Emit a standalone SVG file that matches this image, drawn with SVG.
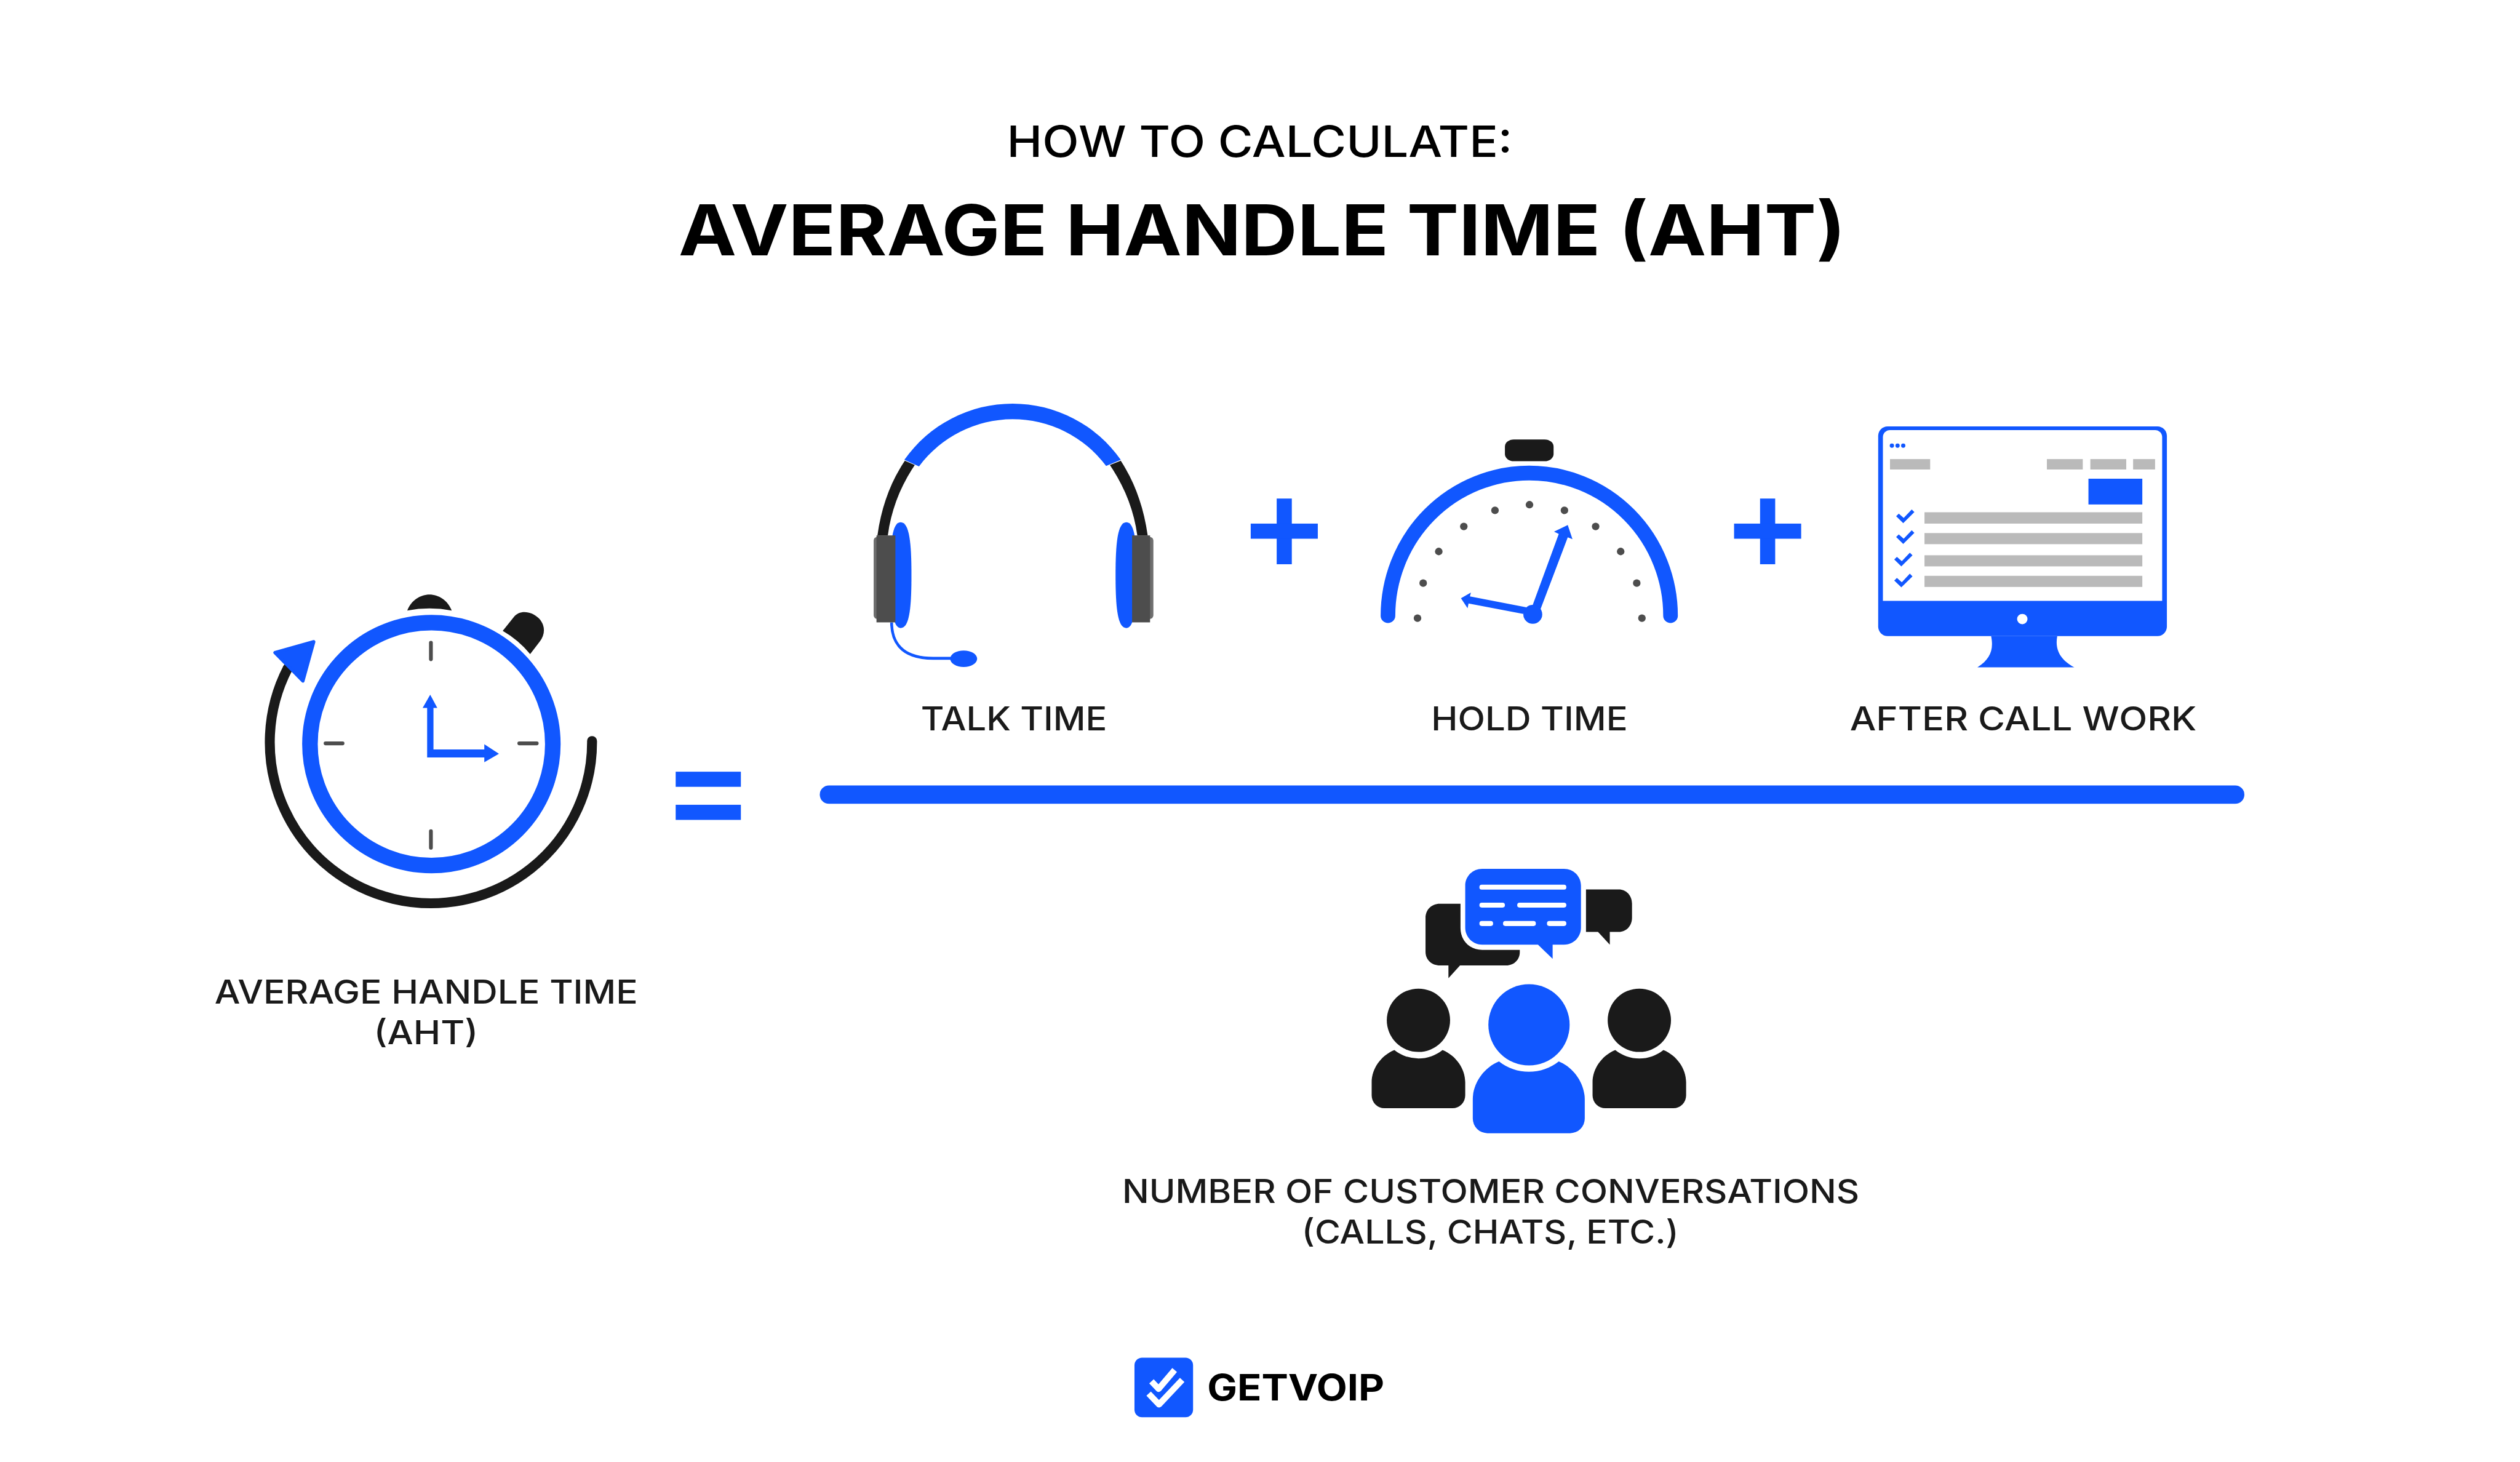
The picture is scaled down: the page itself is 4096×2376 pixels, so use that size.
<svg xmlns="http://www.w3.org/2000/svg" xmlns:xlink="http://www.w3.org/1999/xlink" width="4096" height="2376" viewBox="0 0 4096 2376">
<style>
.b{fill:#1157ff}.k{fill:#1a1a1a}.g{fill:#bababa}.d{fill:#4d4d4d}.w{fill:#fff}
.tick{stroke:#4d4d4d;stroke-width:8;stroke-linecap:round;fill:none}
text{font-family:Inter,"Liberation Sans",sans-serif;fill:#1a1a1a;font-weight:500}
.lab{font-size:69px}
</style>
<defs>
<path id="chk" class="b" d="M4013,1092.5L4028,1107L4051.6,1083.6L4046,1078L4029,1096L4018.6,1087Z"/>
<path id="side-person" class="k" d="M2951,2222A82,82 0 0 0 3053,2222C3082,2234 3101,2262 3101,2290L3101,2318A27,27 0 0 1 3074,2345L2930,2345A27,27 0 0 1 2903,2318L2903,2290C2903,2262 2922,2234 2951,2222Z"/>
</defs>
<rect width="4096" height="2376" fill="#fff"/>
<g transform="scale(0.768)">
<g id="title">
<text x="2131" y="332" font-size="92" textLength="1070" lengthAdjust="spacingAndGlyphs" style="fill:#000">HOW TO CALCULATE:</text>
<text x="1436" y="540" font-size="148" textLength="2470" lengthAdjust="spacingAndGlyphs" style="fill:#000;font-weight:700">AVERAGE HANDLE TIME (AHT)</text>
</g>
<g id="stopwatch">
<path class="k" d="M862,1292C870,1270 890,1258 909,1258C928,1258 948,1270 956,1292Q909,1283 862,1292Z"/>
<path class="k" d="M1064,1335L1088,1305C1100,1290 1125,1293 1140,1308C1154,1322 1155,1342 1142,1358L1122,1384Q1097,1354 1064,1335Z"/>
<circle cx="913" cy="1574.500" r="257" fill="none" stroke="#1157ff" stroke-width="33"/>
<path class="tick" d="M912,1360V1395M912,1759V1794M689,1573H725M1099,1573H1136"/>
<path class="b" d="M904,1603L1025,1603L1025,1613L1056,1595L1025,1575L1025,1586L917.400,1586L917.400,1498L925.500,1498L910.500,1470L894.500,1498L904,1498Z"/>
<path d="M1253,1568A341,341 0 1 1 609,1414" fill="none" stroke="#1a1a1a" stroke-width="21" stroke-linecap="round"/>
<path class="b" d="M582,1381L664,1358L641,1441Z" stroke="#1157ff" stroke-width="7" stroke-linejoin="round"/>
</g>
<g id="equals"><rect class="b" x="1430" y="1633" width="138" height="32"/><rect class="b" x="1430" y="1703" width="138" height="32"/></g>
<g id="stopwatch-label">
<text class="lab" x="454" y="2124" textLength="896" lengthAdjust="spacingAndGlyphs">AVERAGE HANDLE TIME</text>
<text class="lab" x="791" y="2210" textLength="221" lengthAdjust="spacingAndGlyphs">(AHT)</text>
</g>
<g id="headset">
<path class="k" d="M1857,1133C1866,1070 1885,1020 1915,975L1936,984C1905,1030 1886,1080 1879,1133Z"/>
<path class="k" d="M2429,1133C2420,1070 2401,1020 2372,975L2349,984C2380,1030 2400,1080 2407,1133Z"/>
<path class="b" d="M1914,973A280,280 0 0 1 2372,973L2341,986A247,247 0 0 0 1945,987Z"/>
<path d="M1887,1317C1887,1350 1900,1393 1975,1393L2015,1393" fill="none" stroke="#1157ff" stroke-width="6"/>
<ellipse class="b" cx="2039.500" cy="1394" rx="28.500" ry="17.500"/>
<rect x="1849" y="1136" width="30" height="174" rx="8" fill="#6e6e6e"/>
<rect x="2411" y="1136" width="30" height="174" rx="8" fill="#6e6e6e"/>
<path class="b" d="M1906,1105C1925,1105 1929,1150 1929,1217C1929,1285 1925,1329 1906,1329C1890,1329 1884,1285 1884,1217C1884,1150 1888,1105 1906,1105Z"/>
<path class="b" d="M2384,1105C2365,1105 2361,1150 2361,1217C2361,1285 2365,1329 2384,1329C2400,1329 2406,1285 2406,1217C2406,1150 2402,1105 2384,1105Z"/>
<rect class="d" x="1855" y="1133" width="40" height="184"/>
<rect class="d" x="2396" y="1133" width="38" height="184"/>
</g>
<g id="talk-label"><text class="lab" x="1949" y="1546" textLength="394" lengthAdjust="spacingAndGlyphs">TALK TIME</text></g>
<g id="plus-1"><rect class="b" x="2702" y="1055" width="32" height="139"/><rect class="b" x="2647" y="1108" width="142" height="32"/></g>
<g id="dial">
<rect class="k" x="3185" y="930" width="103" height="46" rx="19" ry="15"/>
<path d="M2937.500,1303A299,302 0 0 1 3535.500,1303" fill="none" stroke="#1157ff" stroke-width="31" stroke-linecap="round"/>
<g class="d">
<circle cx="3237" cy="1068" r="8"/><circle cx="3164" cy="1080" r="8"/><circle cx="3311" cy="1080" r="8"/><circle cx="3098" cy="1114" r="8"/><circle cx="3377" cy="1114" r="8"/><circle cx="3045" cy="1167" r="8"/><circle cx="3430" cy="1167" r="8"/><circle cx="3012" cy="1234" r="8"/><circle cx="3464" cy="1234" r="8"/><circle cx="3000" cy="1308" r="8"/><circle cx="3475" cy="1308" r="8"/>
</g>
<path class="b" d="M3242,1285L3299,1130L3289,1125L3318,1111L3328,1141L3318,1137L3260,1290Z"/>
<path class="b" d="M3230.500,1285L3111,1262L3113,1254L3092,1266L3106,1287L3108,1277L3224,1299Z"/>
<circle class="b" cx="3244" cy="1300" r="20"/>
</g>
<g id="hold-label"><text class="lab" x="3029" y="1546" textLength="416" lengthAdjust="spacingAndGlyphs">HOLD TIME</text></g>
<g id="plus-2"><rect class="b" x="3725" y="1055" width="32" height="139"/><rect class="b" x="3670" y="1108" width="142" height="32"/></g>
<g id="monitor">
<rect class="b" x="3975" y="902.500" width="611" height="443.500" rx="20"/>
<path class="w" d="M3985,1271.500V925A15,15 0 0 1 4000,910H4561A15,15 0 0 1 4576,925V1271.500Z"/>
<path class="b" d="M4214,1346C4220,1375 4212,1395 4185,1412L4390,1412C4358,1395 4349,1372 4354,1346Z"/>
<circle class="w" cx="4280" cy="1310" r="11"/>
<circle class="b" cx="4004" cy="943" r="4.500"/><circle class="b" cx="4016" cy="943" r="4.500"/><circle class="b" cx="4028" cy="943" r="4.500"/>
<rect class="g" x="4000" y="971.500" width="85" height="22"/><rect class="g" x="4332" y="971.500" width="76" height="22"/><rect class="g" x="4424" y="971.500" width="76" height="22"/><rect class="g" x="4514.500" y="971.500" width="46.500" height="22"/>
<rect class="b" x="4420" y="1013" width="114" height="54.500"/>
<rect class="g" x="4073" y="1084" width="461" height="24"/><rect class="g" x="4073" y="1128" width="461" height="23.500"/><rect class="g" x="4073" y="1175" width="461" height="23.500"/><rect class="g" x="4073" y="1218.500" width="461" height="23.500"/>
<use href="#chk"/><use href="#chk" y="44"/><use href="#chk" x="-4" y="91.500"/><use href="#chk" x="-4" y="136"/>
</g>
<g id="acw-label"><text class="lab" x="3915" y="1546" textLength="734" lengthAdjust="spacingAndGlyphs">AFTER CALL WORK</text></g>
<g id="divider"><rect class="b" x="1735" y="1662" width="3015" height="39" rx="19.500"/></g>
<g id="people">
<path class="k" d="M3047,1912.500H3091V1964C3091,1990 3110,2010 3137,2010H3216.500V2015C3216.500,2031 3204,2043 3188,2043H3090L3065.500,2070V2043H3047.500C3030,2043 3017,2031 3017,2014V1942.500C3017,1925 3030,1912.500 3047,1912.500Z"/>
<path class="k" d="M3356.600,1882H3426C3442,1882 3454,1895 3454,1912V1942C3454,1959 3442,1972 3426,1972H3407V1999L3382,1972H3356.600Z"/>
<path class="b" d="M3137,1838.500H3310C3330,1838.500 3346,1854 3346,1874V1963C3346,1983 3330,1999 3310,1999H3286V2029L3255,1999H3137C3117,1999 3101,1983 3101,1963V1874C3101,1854 3117,1838.500 3137,1838.500Z"/>
<g class="w">
<rect x="3131" y="1872" width="184" height="10.500" rx="5"/>
<rect x="3131" y="1910" width="54" height="10.500" rx="5"/><rect x="3211" y="1910" width="104" height="10.500" rx="5"/>
<rect x="3131" y="1949" width="29" height="10.500" rx="5"/><rect x="3181" y="1949" width="69.500" height="10.500" rx="5"/><rect x="3274" y="1949" width="41" height="10.500" rx="5"/>
</g>
<circle class="k" cx="3002" cy="2159" r="67"/>
<use href="#side-person"/>
<circle class="k" cx="3469.500" cy="2159" r="67"/>
<use href="#side-person" x="467.500"/>
<circle class="b" cx="3236" cy="2168.600" r="86"/>
<path class="b" d="M3172.500,2246A102,102 0 0 0 3299,2246C3333,2260 3354,2295 3354,2326L3354,2367A31,31 0 0 1 3323,2398L3148,2398A31,31 0 0 1 3117,2367L3117,2326C3117,2295 3138,2260 3172.500,2246Z"/>
</g>
<g id="people-label">
<text class="lab" x="2375" y="2546" textLength="1560" lengthAdjust="spacingAndGlyphs">NUMBER OF CUSTOMER CONVERSATIONS</text>
<text class="lab" x="2755" y="2631" textLength="798" lengthAdjust="spacingAndGlyphs">(CALLS, CHATS, ETC.)</text>
</g>
<g id="logo">
<rect class="b" x="2401" y="2873" width="124" height="126" rx="16"/>
<path d="M2437,2923L2452,2939L2486,2899M2431,2949L2453,2972L2502,2920" fill="none" stroke="#fff" stroke-width="13" stroke-linejoin="round"/>
<text x="2555" y="2963" font-size="77" textLength="375" lengthAdjust="spacingAndGlyphs" style="fill:#000;font-weight:700">GETVOIP</text>
</g>
</g>
</svg>
